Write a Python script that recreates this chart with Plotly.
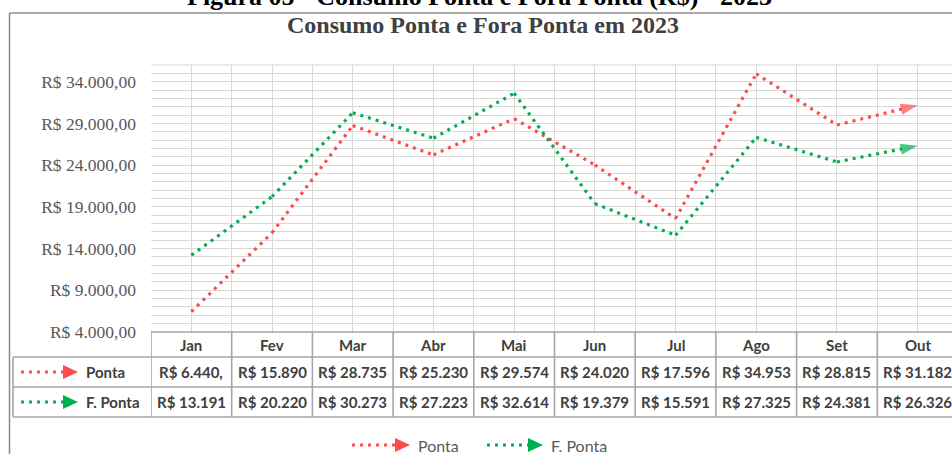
import plotly.graph_objects as go

months = ["Jan", "Fev", "Mar", "Abr", "Mai", "Jun", "Jul", "Ago", "Set", "Out"]
ponta = [6440, 15890, 28735, 25230, 29574, 24020, 17596, 34953, 28815, 31182]
fora_ponta = [13191, 20220, 30273, 27223, 32614, 19379, 15591, 27325, 24381, 26326]
series_names = ["Ponta", "F. Ponta"]
series_colors = ["#FF4B4B", "#00B050"]
y_tickvals = [4000, 9000, 14000, 19000, 24000, 29000, 34000]
y_ticktext = ["R$ 4.000,00", "R$ 9.000,00", "R$ 14.000,00", "R$ 19.000,00",
              "R$ 24.000,00", "R$ 29.000,00", "R$ 34.000,00"]
chart_title = "Consumo Ponta e Fora Ponta em 2023"
caption = "Figura 05 - Consumo Ponta e Fora Ponta (R$) - 2023"

W, H = 952, 454
L, R, T, B = 151, 0, 65, 454 - 332
PW = W - L - R
PH = H - T - B


def px_x(px):
    return (px - L) / PW


def px_y(py):
    return (H - B - py) / PH


def brl(v):
    s = f"{v:,.2f}".replace(",", "X").replace(".", ",").replace("X", ".")
    return ("R$ " + s)[:9]


x_idx = list(range(len(months)))
fig = go.Figure()
for name, vals, col in zip(series_names, [ponta, fora_ponta], series_colors):
    n = len(vals)
    fig.add_trace(go.Scatter(
        x=x_idx, y=vals, name=name, mode="lines+markers",
        line=dict(color=col, width=3.2, dash="3px,5px"),
        marker=dict(symbol=["circle"] * (n - 1) + ["arrow"],
                    size=[0] * (n - 1) + [18], color=col,
                    angleref="previous", line=dict(width=0)),
        showlegend=False, cliponaxis=False,
    ))

shapes = []
annots = []
grid_c = "#D9D9D9"
tab_c = "#A6A6A6"
txt_c = "#404040"

# chart frame
shapes.append(dict(type="line", xref="paper", yref="paper", x0=px_x(9.5), x1=px_x(960),
                   y0=px_y(13), y1=px_y(13), line=dict(color="#8C8C8C", width=1.5)))
shapes.append(dict(type="line", xref="paper", yref="paper", x0=px_x(9.5), x1=px_x(9.5),
                   y0=px_y(13), y1=px_y(470), line=dict(color="#8C8C8C", width=1.5)))

# table lines
row_tops = [332, 357, 387, 417]
shapes.append(dict(type="line", xref="paper", yref="paper", x0=0, x1=px_x(960),
                   y0=px_y(332), y1=px_y(332), line=dict(color=tab_c, width=1.6)))
for py in row_tops[1:]:
    shapes.append(dict(type="line", xref="paper", yref="paper", x0=px_x(13), x1=px_x(960),
                       y0=px_y(py), y1=px_y(py), line=dict(color=tab_c, width=1.6)))
shapes.append(dict(type="line", xref="paper", yref="paper", x0=px_x(13), x1=px_x(13),
                   y0=px_y(357), y1=px_y(417), line=dict(color=tab_c, width=1.6)))
for i in range(len(months) + 1):
    shapes.append(dict(type="line", xref="x", yref="paper", x0=i - 0.5, x1=i - 0.5,
                       y0=px_y(332), y1=px_y(417), line=dict(color=tab_c, width=1.6)))

cell_font = dict(family="Lato", size=15, color=txt_c)
for i, m in enumerate(months):
    for py, t in [(344.5, m), (372, brl(ponta[i])), (402, brl(fora_ponta[i]))]:
        annots.append(dict(x=i, y=px_y(py), xref="x", yref="paper", text=f"<b>{t}</b>",
                           xanchor="center", yanchor="middle",
                           showarrow=False, font=cell_font))


def legend_key(x_start, x_end, y, col, label, bold, fsize):
    shapes.append(dict(type="line", xref="paper", yref="paper", x0=px_x(x_start), x1=px_x(x_end),
                       y0=px_y(y), y1=px_y(y), line=dict(color=col, width=3.2, dash="3px,5px")))
    shapes.append(dict(type="path", xref="paper", yref="paper",
                       path=f"M {px_x(x_end)},{px_y(y - 7)} L {px_x(x_end + 15)},{px_y(y)} L {px_x(x_end)},{px_y(y + 7)} Z",
                       fillcolor=col, line=dict(width=0)))
    t = f"<b>{label}</b>" if bold else label
    annots.append(dict(x=px_x(x_end + 21), y=px_y(y), xref="paper", yref="paper", text=t,
                       xanchor="left", yanchor="middle", showarrow=False,
                       font=dict(family="Lato", size=fsize, color=txt_c if bold else "#595959")))


legend_key(21, 63, 372, series_colors[0], series_names[0], True, 15)
legend_key(21, 63, 402, series_colors[1], series_names[1], True, 15)
legend_key(352, 395, 445, series_colors[0], series_names[0], False, 16)
legend_key(487, 528, 445, series_colors[1], series_names[1], False, 16)

annots.append(dict(x=px_x(483), y=px_y(25), xref="paper", yref="paper", text=f"<b>{chart_title}</b>",
                   xanchor="center", yanchor="middle",
                   showarrow=False, font=dict(family="Liberation Serif", size=24, color="#404040")))
annots.append(dict(x=px_x(479), y=px_y(13), xref="paper", yref="paper",
                   xanchor="center", yanchor="bottom",
                   text=f"<b>{caption}</b>",
                   showarrow=False, font=dict(family="Liberation Serif", size=26, color="#000000")))

# plot-area top edge
shapes.append(dict(type="line", xref="paper", yref="paper", x0=0, x1=1, y0=1, y1=1,
                   line=dict(color=grid_c, width=1.2), layer="below"))

fig.update_layout(
    width=W, height=H, margin=dict(l=L, r=R, t=T, b=B),
    paper_bgcolor="white", plot_bgcolor="white",
    showlegend=False, shapes=shapes, annotations=annots,
    xaxis=dict(range=[-0.5, -0.5 + PW / 80.7], tickmode="linear", tick0=-0.5, dtick=0.5,
               showticklabels=False, showgrid=True, gridcolor=grid_c, gridwidth=1.2,
               zeroline=False, showline=False, fixedrange=True),
    yaxis=dict(range=[4000, 36000], tickvals=y_tickvals, ticktext=y_ticktext,
               showgrid=True, gridcolor=grid_c, gridwidth=1.2, zeroline=False,
               minor=dict(dtick=1000, tick0=4000, showgrid=True, gridcolor=grid_c, gridwidth=1.2),
               tickfont=dict(family="Liberation Serif", size=17.5, color="#595959"),
               ticks="", ticklabelstandoff=14, showline=False, fixedrange=True),
)

fig.write_html("out.html", config={"displayModeBar": False},
               post_script="document.body.style.margin='0';document.body.style.overflow='hidden';")
